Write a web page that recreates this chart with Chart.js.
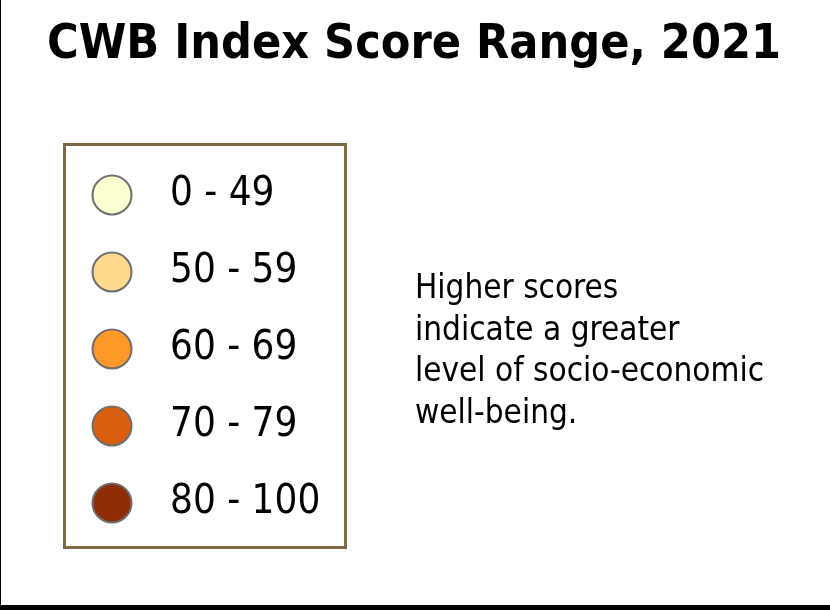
<!DOCTYPE html>
<html>
<head>
<meta charset="utf-8">
<script src="https://cdn.jsdelivr.net/npm/chart.js@4"></script>
<style>
html, body { margin: 0; padding: 0; background: #fff; }
#wrap { position: relative; width: 830px; height: 610px; }
</style>
</head>
<body>
<div id="wrap"><canvas id="chart" width="830" height="610"></canvas></div>
<script>
// Legend data
const title = 'CWB Index Score Range, 2021';
const ranges = ['0 - 49', '50 - 59', '60 - 69', '70 - 79', '80 - 100'];
const colors = ['#FFFFD4', '#FED98E', '#FE9929', '#D95F0E', '#8C2D04'];
const note = ['Higher scores', 'indicate a greater', 'level of socio-economic', 'well-being.'];

// Draws the frame, title, range labels and the side note
const decor = {
    id: 'decor',
    beforeDraw(chart) {
        const ctx = chart.ctx;
        ctx.save();
        ctx.fillStyle = '#fff';
        ctx.fillRect(0, 0, chart.width, chart.height);
        // page edges
        ctx.fillStyle = '#000';
        ctx.fillRect(0, 0, 1, chart.height);
        ctx.fillRect(0, chart.height - 5, chart.width, 5);
        // title
        ctx.font = 'bold 48px "DejaVu Sans Condensed", "DejaVu Sans"';
        ctx.textAlign = 'center';
        ctx.textBaseline = 'alphabetic';
        ctx.fillText(title, 414, 58);
        // legend frame
        ctx.strokeStyle = '#806A45';
        ctx.lineWidth = 3;
        ctx.strokeRect(64.5, 144.5, 281, 403);
        ctx.restore();
    },
    afterDatasetsDraw(chart) {
        const ctx = chart.ctx;
        const meta = chart.getDatasetMeta(0);
        ctx.save();
        ctx.fillStyle = '#000';
        ctx.textAlign = 'left';
        ctx.textBaseline = 'middle';
        ctx.font = '40px "DejaVu Sans Condensed", "DejaVu Sans"';
        meta.data.forEach((pt, i) => {
            ctx.fillText(ranges[i], pt.x + 58, pt.y);
        });
        ctx.textBaseline = 'alphabetic';
        ctx.font = '33px "DejaVu Sans Condensed", "DejaVu Sans"';
        note.forEach((line, i) => {
            ctx.fillText(line, 415, 298 + i * 41.5);
        });
        ctx.restore();
    }
};

const chart = new Chart(document.getElementById('chart'), {
    type: 'scatter',
    data: {
        datasets: [{
            data: ranges.map(r => ({ x: 0, y: r })),
            backgroundColor: colors,
            borderColor: '#6E6E6E',
            borderWidth: 2,
            pointRadius: 19.5,
            pointHoverRadius: 19.5,
            clip: false
        }]
    },
    options: {
        responsive: false,
        animation: false,
        events: [],
        layout: { padding: { left: 112, right: 530, top: 195, bottom: 107 } },
        scales: {
            x: { type: 'linear', min: 0, max: 1, display: false },
            y: { type: 'category', labels: ranges, offset: false, display: false }
        },
        plugins: {
            legend: { display: false },
            tooltip: { enabled: false }
        }
    },
    plugins: [decor]
});
</script>
</body>
</html>
